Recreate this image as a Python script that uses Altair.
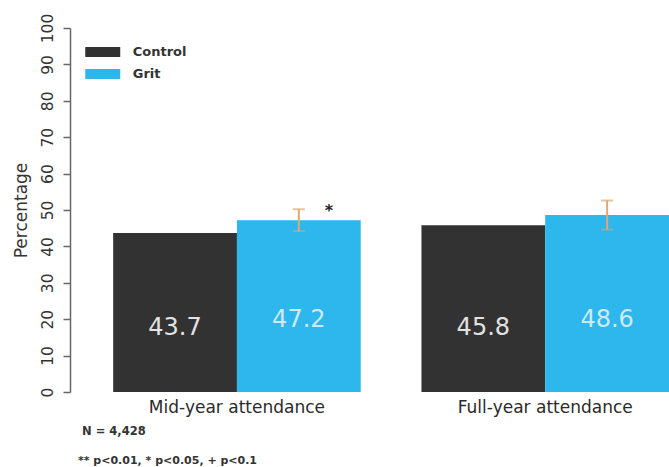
import altair as alt
import pandas as pd

categories = ["Mid-year attendance", "Full-year attendance"]
groups = ["Control", "Grit"]
control_values = [43.7, 45.8]
grit_values = [47.2, 48.6]
grit_err_low = [44.2, 44.6]
grit_err_high = [50.2, 52.6]
significance = ["*", ""]
y_ticks = [0, 10, 20, 30, 40, 50, 60, 70, 80, 90, 100]
notes = ["N = 4,428", "** p<0.01, * p<0.05, + p<0.1"]

colors = ["#323232", "#2db7ec"]
FONT = "DejaVu Sans"

rows = []
for i, c in enumerate(categories):
    rows.append({"category": c, "group": "Control", "value": control_values[i]})
    rows.append({"category": c, "group": "Grit", "value": grit_values[i]})
df = pd.DataFrame(rows)

err = pd.DataFrame({
    "category": categories,
    "group": ["Grit"] * len(categories),
    "lo": grit_err_low,
    "hi": grit_err_high,
    "sig": significance,
})

x_axis = alt.Axis(
    title=None, labelAngle=0, domain=False, ticks=False,
    labelFontSize=17, labelColor="#2a2a2a", labelPadding=7, labelLimit=400,
    labelFont=FONT, labelFontWeight="normal",
)
y_axis = alt.Axis(
    title="Percentage", values=y_ticks, grid=False, labelOverlap=False,
    labelAngle=270, labelAlign="center", labelBaseline="bottom",
    labelFontSize=15.5, labelColor="#333333", labelPadding=8, labelFont=FONT,
    tickSize=7, tickColor="#666666", tickWidth=1.5,
    domainColor="#666666", domainWidth=1.5,
    titleFontSize=17, titleColor="#333333", titleFont=FONT,
    titleFontWeight="normal", titlePadding=10,
)
x_scale = alt.Scale(paddingInner=0.197, paddingOuter=0.07, align=1)
xo_scale = alt.Scale(domain=groups, paddingInner=0, paddingOuter=0)
y_scale = alt.Scale(domain=[0, 100], nice=False)


def xe():
    return alt.X("category:N", sort=categories, scale=x_scale, axis=x_axis)


def xoe():
    return alt.XOffset("group:N", sort=groups, scale=xo_scale)


bars = alt.Chart(df).mark_bar(opacity=1).encode(
    x=xe(),
    xOffset=xoe(),
    y=alt.Y("value:Q", scale=y_scale, axis=y_axis),
    color=alt.Color(
        "group:N", sort=groups,
        scale=alt.Scale(domain=groups, range=colors),
        legend=alt.Legend(
            title=None, orient="none", legendX=23.75, legendY=15,
            symbolType="M-2,-0.56H2V0.56H-2Z", symbolSize=306,
            symbolStrokeWidth=0, symbolOpacity=1,
            labelFontSize=13, labelFontWeight="bold", labelColor="#333333",
            labelFont=FONT, labelOffset=21, rowPadding=6,
        ),
    ),
)

ctrl_labels = alt.Chart(df).transform_filter(alt.datum.group == "Control").mark_text(
    fontSize=24, color="#e2e2e2", font=FONT, baseline="middle"
).encode(
    x=xe(),
    xOffset=xoe(),
    y=alt.Y(datum=17.6, scale=y_scale, axis=y_axis),
    text=alt.Text("value:Q", format=".1f"),
)

grit_labels = alt.Chart(df).transform_filter(alt.datum.group == "Grit").mark_text(
    fontSize=24, color="#cfe9f7", font=FONT, baseline="middle"
).encode(
    x=xe(),
    xOffset=xoe(),
    y=alt.Y(datum=19.8, scale=y_scale, axis=y_axis),
    text=alt.Text("value:Q", format=".1f"),
)

err_color = "#e0a878"
err_rule = alt.Chart(err).mark_rule(color=err_color, strokeWidth=2).encode(
    x=xe(),
    xOffset=xoe(),
    y=alt.Y("lo:Q", scale=y_scale, axis=y_axis),
    y2="hi:Q",
)
err_top = alt.Chart(err).mark_tick(color=err_color, thickness=2, size=12).encode(
    x=xe(),
    xOffset=xoe(),
    y=alt.Y("hi:Q", scale=y_scale, axis=y_axis),
)
err_bot = alt.Chart(err).mark_tick(color=err_color, thickness=2, size=12, opacity=0.5).encode(
    x=xe(),
    xOffset=xoe(),
    y=alt.Y("lo:Q", scale=y_scale, axis=y_axis),
)
sig_text = alt.Chart(err).mark_text(
    fontSize=16, color="#222222", font=FONT, fontWeight="bold", dx=30, dy=2
).encode(
    x=xe(),
    xOffset=xoe(),
    y=alt.Y("hi:Q", scale=y_scale, axis=y_axis),
    text="sig:N",
)

notes_df = pd.DataFrame({"note": notes, "row": [0, 1]})
note1 = alt.Chart(notes_df).transform_filter(alt.datum.row == 0).mark_text(
    align="left", baseline="middle", fontSize=11.5, fontWeight="bold", color="#333333", font=FONT
).encode(x=alt.value(12), y=alt.value(404), text="note:N")
note2 = alt.Chart(notes_df).transform_filter(alt.datum.row == 1).mark_text(
    align="left", baseline="middle", fontSize=11, fontWeight="bold", color="#333333", font=FONT
).encode(x=alt.value(8), y=alt.value(433), text="note:N")

chart = alt.layer(
    bars, ctrl_labels, grit_labels, err_rule, err_top, err_bot, sig_text, note1, note2
).properties(
    width=599, height=364,
    autosize=alt.AutoSizeParams(type="none"),
    padding={"left": 70, "top": 28, "right": 0, "bottom": 75},
    background="white",
).configure_view(stroke=None)

chart.save("out.html", embed_options={"renderer": "svg", "actions": False})
